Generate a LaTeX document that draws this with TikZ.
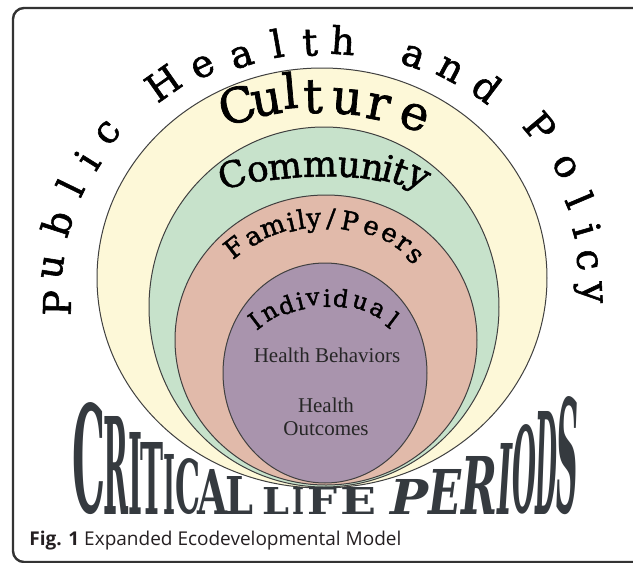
\documentclass[tikz,border=0pt]{standalone}
\usepackage{fontspec}
\usepackage{graphicx}
\newfontfamily\arcfont[FakeBold=1.5]{DejaVu Serif}
\newfontfamily\innerfont{Liberation Serif}
\newfontfamily\clpfont{DejaVu Serif}
\newfontfamily\capfont{Open Sans}
\newlength{\du}
\setlength{\du}{0.5\unitlength}
\definecolor{clpgray}{rgb}{0.208, 0.227, 0.247}
\newcommand{\clpbox}[3]{\resizebox{#1\du}{#2\du}{#3}}
\tikzset{
  arcletter/.style={inner sep=0pt, text=black, font=\arcfont\fontsize{19}{19}\selectfont},
  culletter/.style={arcletter, font=\arcfont\fontsize{24}{24}\selectfont},
  comletter/.style={arcletter, font=\arcfont\fontsize{18}{18}\selectfont},
  famletter/.style={arcletter, font=\arcfont\fontsize{13}{13}\selectfont},
  indletter/.style={arcletter, font=\arcfont\fontsize{12}{12}\selectfont},
  innertext/.style={inner sep=0pt, align=center, text={rgb,1:red,0.15;green,0.15;blue,0.15}, font=\innerfont\fontsize{10.5}{11.5}\selectfont},
  clpletter/.style={inner sep=0pt, anchor=south west, text=clpgray},
}

\begin{document}
\begin{tikzpicture}
\pgftransformxscale{1.000000}
\pgftransformyscale{-1.000000}
\useasboundingbox (0.000000\du,0.000000\du) rectangle (633.000000\du,563.000000\du);
\clip (0.000000\du,0.000000\du) rectangle (633.000000\du,563.000000\du);
\definecolor{dialinecolor}{rgb}{1.000000, 1.000000, 1.000000}
\pgfsetfillcolor{dialinecolor}
\fill (0.000000\du,0.000000\du) rectangle (633.000000\du,563.000000\du);
\definecolor{dialinecolor}{rgb}{0.200000, 0.200000, 0.200000}
\pgfsetstrokecolor{dialinecolor}
\pgfsetlinewidth{2.400000\du}
\draw[rounded corners=11\du] (13.000000\du,8.000000\du) rectangle (645.000000\du,562.000000\du);
\pgfsetlinewidth{1.000000\du}
\pgfsetdash{}{0pt}
% culture
\definecolor{dialinecolor}{rgb}{0.992157, 0.972549, 0.847059}
\pgfsetfillcolor{dialinecolor}
\pgfpathellipse{\pgfpoint{322.000000\du}{278.000000\du}}{\pgfpoint{225.000000\du}{0\du}}{\pgfpoint{0\du}{210.000000\du}}
\pgfusepath{fill}
\definecolor{dialinecolor}{rgb}{0.250000, 0.250000, 0.250000}
\pgfsetstrokecolor{dialinecolor}
\pgfpathellipse{\pgfpoint{322.000000\du}{278.000000\du}}{\pgfpoint{225.000000\du}{0\du}}{\pgfpoint{0\du}{210.000000\du}}
\pgfusepath{stroke}
% community
\definecolor{dialinecolor}{rgb}{0.780392, 0.886275, 0.796078}
\pgfsetfillcolor{dialinecolor}
\pgfpathellipse{\pgfpoint{324.000000\du}{307.000000\du}}{\pgfpoint{175.000000\du}{0\du}}{\pgfpoint{0\du}{180.000000\du}}
\pgfusepath{fill}
\definecolor{dialinecolor}{rgb}{0.250000, 0.250000, 0.250000}
\pgfsetstrokecolor{dialinecolor}
\pgfpathellipse{\pgfpoint{324.000000\du}{307.000000\du}}{\pgfpoint{175.000000\du}{0\du}}{\pgfpoint{0\du}{180.000000\du}}
\pgfusepath{stroke}
% family/peers
\definecolor{dialinecolor}{rgb}{0.882353, 0.729412, 0.666667}
\pgfsetfillcolor{dialinecolor}
\pgfpathellipse{\pgfpoint{326.000000\du}{340.000000\du}}{\pgfpoint{151.000000\du}{0\du}}{\pgfpoint{0\du}{145.000000\du}}
\pgfusepath{fill}
\definecolor{dialinecolor}{rgb}{0.250000, 0.250000, 0.250000}
\pgfsetstrokecolor{dialinecolor}
\pgfpathellipse{\pgfpoint{326.000000\du}{340.000000\du}}{\pgfpoint{151.000000\du}{0\du}}{\pgfpoint{0\du}{145.000000\du}}
\pgfusepath{stroke}
% individual
\definecolor{dialinecolor}{rgb}{0.662745, 0.580392, 0.678431}
\pgfsetfillcolor{dialinecolor}
\pgfpathellipse{\pgfpoint{325.000000\du}{373.000000\du}}{\pgfpoint{102.000000\du}{0\du}}{\pgfpoint{0\du}{110.000000\du}}
\pgfusepath{fill}
\definecolor{dialinecolor}{rgb}{0.250000, 0.250000, 0.250000}
\pgfsetstrokecolor{dialinecolor}
\pgfpathellipse{\pgfpoint{325.000000\du}{373.000000\du}}{\pgfpoint{102.000000\du}{0\du}}{\pgfpoint{0\du}{110.000000\du}}
\pgfusepath{stroke}
% public health and policy
\node[arcletter, rotate=89] (arc1) at (57.000000\du,303.000000\du) {P};
\node[arcletter, rotate=81] (arc2) at (53.000000\du,267.000000\du) {u};
\node[arcletter, rotate=72] (arc3) at (57.000000\du,223.000000\du) {b};
\node[arcletter, rotate=64] (arc4) at (70.000000\du,187.000000\du) {l};
\node[arcletter, rotate=58] (arc5) at (87.000000\du,160.000000\du) {i};
\node[arcletter, rotate=51] (arc6) at (108.000000\du,133.000000\du) {c};
\node[arcletter, rotate=35] (arc7) at (163.000000\du,83.000000\du) {H};
\node[arcletter, rotate=26] (arc8) at (203.000000\du,67.000000\du) {e};
\node[arcletter, rotate=18] (arc9) at (242.000000\du,57.000000\du) {a};
\node[arcletter, rotate=10] (arc10) at (277.000000\du,43.000000\du) {l};
\node[arcletter, rotate=3] (arc11) at (310.000000\du,43.000000\du) {t};
\node[arcletter, rotate=-4] (arc12) at (343.000000\du,40.000000\du) {h};
\node[arcletter, rotate=-20] (arc13) at (413.000000\du,57.000000\du) {a};
\node[arcletter, rotate=-28] (arc14) at (450.000000\du,70.000000\du) {n};
\node[arcletter, rotate=-37] (arc15) at (487.000000\du,87.000000\du) {d};
\node[arcletter, rotate=-50] (arc16) at (540.000000\du,127.000000\du) {P};
\node[arcletter, rotate=-60] (arc17) at (565.000000\du,167.000000\du) {o};
\node[arcletter, rotate=-67] (arc18) at (580.000000\du,200.000000\du) {l};
\node[arcletter, rotate=-74] (arc19) at (587.000000\du,230.000000\du) {i};
\node[arcletter, rotate=-80] (arc20) at (587.000000\du,260.000000\du) {c};
\node[arcletter, rotate=-87] (arc21) at (588.000000\du,293.000000\du) {y};
% culture
\node[culletter, rotate=16] (cul1) at (237.000000\du,105.000000\du) {C};
\node[culletter, rotate=10] (cul2) at (267.000000\du,103.000000\du) {u};
\node[culletter, rotate=5] (cul3) at (290.000000\du,90.000000\du) {l};
\node[culletter, rotate=1] (cul4) at (313.000000\du,97.000000\du) {t};
\node[culletter, rotate=-5] (cul5) at (347.000000\du,102.000000\du) {u};
\node[culletter, rotate=-11] (cul6) at (378.000000\du,107.000000\du) {r};
\node[culletter, rotate=-20] (cul7) at (414.000000\du,117.000000\du) {e};
% community
\node[comletter, rotate=18] (com1) at (232.000000\du,174.000000\du) {C};
\node[comletter, rotate=12] (com2) at (258.000000\du,172.000000\du) {o};
\node[comletter, rotate=6] (com3) at (285.000000\du,169.000000\du) {m};
\node[comletter, rotate=1] (com4) at (320.000000\du,167.000000\du) {m};
\node[comletter, rotate=-5] (com5) at (349.000000\du,168.000000\du) {u};
\node[comletter, rotate=-10] (com6) at (372.000000\du,170.000000\du) {n};
\node[comletter, rotate=-15] (com7) at (388.000000\du,168.000000\du) {i};
\node[comletter, rotate=-20] (com8) at (400.000000\du,172.000000\du) {t};
\node[comletter, rotate=-28] (com9) at (416.000000\du,181.000000\du) {y};
% family/peers
\node[famletter, rotate=38] (fam1) at (234.000000\du,247.000000\du) {F};
\node[famletter, rotate=30] (fam2) at (254.000000\du,238.000000\du) {a};
\node[famletter, rotate=20] (fam3) at (273.000000\du,228.000000\du) {m};
\node[famletter, rotate=13] (fam4) at (291.000000\du,222.000000\du) {i};
\node[famletter, rotate=9] (fam5) at (301.000000\du,219.000000\du) {l};
\node[famletter, rotate=4] (fam6) at (314.000000\du,223.000000\du) {y};
\node[famletter, rotate=-3] (fam7) at (331.000000\du,219.000000\du) {/};
\node[famletter, rotate=-11] (fam8) at (350.000000\du,221.000000\du) {P};
\node[famletter, rotate=-20] (fam9) at (371.000000\du,228.000000\du) {e};
\node[famletter, rotate=-28] (fam10) at (389.000000\du,235.000000\du) {e};
\node[famletter, rotate=-35] (fam11) at (403.000000\du,244.000000\du) {r};
\node[famletter, rotate=-42] (fam12) at (414.000000\du,256.000000\du) {s};
% individual
\node[indletter, rotate=37] (ind1) at (255.000000\du,321.000000\du) {I};
\node[indletter, rotate=30] (ind2) at (270.000000\du,313.000000\du) {n};
\node[indletter, rotate=20] (ind3) at (286.000000\du,305.000000\du) {d};
\node[indletter, rotate=13] (ind4) at (300.000000\du,301.000000\du) {i};
\node[indletter, rotate=6] (ind5) at (313.000000\du,299.000000\du) {v};
\node[indletter, rotate=-1] (ind6) at (327.000000\du,298.000000\du) {i};
\node[indletter, rotate=-8] (ind7) at (341.000000\du,298.000000\du) {d};
\node[indletter, rotate=-18] (ind8) at (360.000000\du,303.000000\du) {u};
\node[indletter, rotate=-27] (ind9) at (377.000000\du,310.000000\du) {a};
\node[indletter, rotate=-37] (ind10) at (393.000000\du,320.000000\du) {l};
\node[innertext] (behaviors) at (327.000000\du,355.000000\du) {Health Behaviors};
\node[innertext] (outcomes) at (326.000000\du,417.000000\du) {Health\\Outcomes};
% critical life periods
\node[clpletter] (clp1) at (72.000000\du,515.000000\du) {\clpbox{33}{110}{\clpfont\bfseries C}};
\node[clpletter] (clp2) at (103.000000\du,515.000000\du) {\clpbox{25}{98}{\clpfont\bfseries R}};
\node[clpletter] (clp3) at (128.000000\du,515.000000\du) {\clpbox{14}{82}{\clpfont\bfseries I}};
\node[clpletter] (clp4) at (140.000000\du,515.000000\du) {\clpbox{23}{72}{\clpfont\bfseries T}};
\node[clpletter] (clp5) at (163.000000\du,515.000000\du) {\clpbox{12}{60}{\clpfont\bfseries I}};
\node[clpletter] (clp6) at (175.000000\du,515.000000\du) {\clpbox{25}{55}{\clpfont\bfseries C}};
\node[clpletter] (clp7) at (197.000000\du,515.000000\du) {\clpbox{30}{45}{\clpfont\bfseries A}};
\node[clpletter] (clp8) at (225.000000\du,515.000000\du) {\clpbox{28}{38}{\clpfont\bfseries L}};
\node[clpletter] (clp9) at (262.000000\du,515.000000\du) {\clpbox{27}{27}{\clpfont\bfseries L}};
\node[clpletter] (clp10) at (292.000000\du,515.000000\du) {\clpbox{12}{27}{\clpfont\bfseries I}};
\node[clpletter] (clp11) at (307.000000\du,515.000000\du) {\clpbox{30}{27}{\clpfont\bfseries F}};
\node[clpletter] (clp12) at (340.000000\du,515.000000\du) {\clpbox{36}{27}{\clpfont\bfseries E}};
\node[clpletter] (clp13) at (390.000000\du,515.000000\du) {\clpbox{38}{35}{\clpfont\bfseries\itshape P}};
\node[clpletter] (clp14) at (428.000000\du,515.000000\du) {\clpbox{33}{45}{\clpfont\bfseries\itshape E}};
\node[clpletter] (clp15) at (461.000000\du,515.000000\du) {\clpbox{36}{58}{\clpfont\bfseries\itshape R}};
\node[clpletter] (clp16) at (497.000000\du,515.000000\du) {\clpbox{15}{71}{\clpfont\bfseries\itshape I}};
\node[clpletter] (clp17) at (512.000000\du,515.000000\du) {\clpbox{24}{88}{\clpfont\bfseries\itshape O}};
\node[clpletter] (clp18) at (535.000000\du,515.000000\du) {\clpbox{22}{103}{\clpfont\bfseries\itshape D}};
\node[clpletter] (clp19) at (556.000000\du,515.000000\du) {\clpbox{22}{116}{\clpfont\bfseries\itshape S}};
% caption
\node[anchor=west, inner sep=0pt, text={rgb,1:red,0.14;green,0.12;blue,0.13}, font=\capfont\fontsize{9.5}{9.5}\selectfont] (caption) at (29.000000\du,541.000000\du) {\textbf{Fig. 1} Expanded Ecodevelopmental Model};
\end{tikzpicture}
\end{document}
